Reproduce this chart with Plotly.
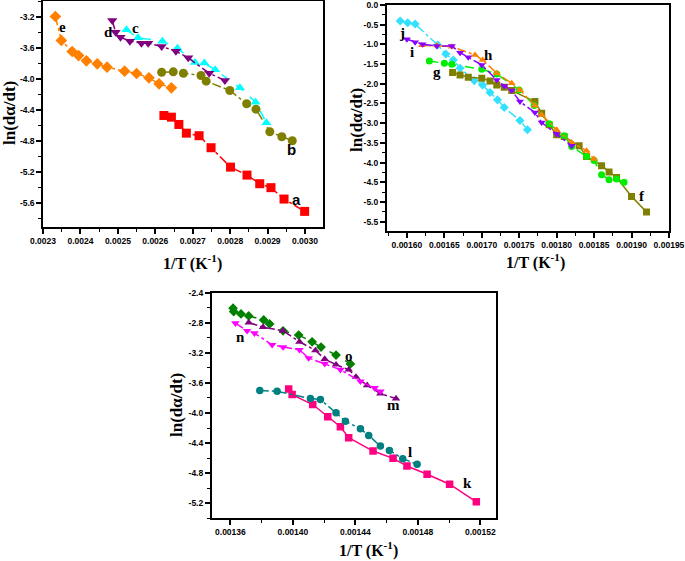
import plotly.graph_objects as go

# ---- panel 1 (top left) ----
a_x = [0.002623, 0.002643, 0.002663, 0.002683, 0.002717, 0.002749, 0.002801, 0.002845, 0.002879, 0.002909, 0.002944, 0.002999]
a_y = [-4.476, -4.498, -4.592, -4.704, -4.737, -4.892, -5.142, -5.245, -5.356, -5.407, -5.554, -5.713]
b_x = [0.002617, 0.002648, 0.002675, 0.002722, 0.002736, 0.002799, 0.002844, 0.002869, 0.002906, 0.002938, 0.002966]
b_y = [-3.918, -3.913, -3.931, -3.960, -4.034, -4.154, -4.325, -4.395, -4.686, -4.750, -4.802]
c_x = [0.002523, 0.002554, 0.002619, 0.002659, 0.002706, 0.002731, 0.002760, 0.002826, 0.002868, 0.002897]
c_y = [-3.372, -3.475, -3.518, -3.608, -3.793, -3.800, -3.887, -4.119, -4.304, -4.570]
d_x = [0.002485, 0.002494, 0.002507, 0.002532, 0.002563, 0.002581, 0.002617, 0.002655, 0.002688, 0.002744, 0.002786]
d_y = [-3.252, -3.402, -3.466, -3.518, -3.544, -3.544, -3.587, -3.647, -3.733, -3.930, -4.025]
e_x = [0.002333, 0.002349, 0.002378, 0.002395, 0.002416, 0.002445, 0.002471, 0.002518, 0.002550, 0.002583, 0.002610, 0.002643]
e_y = [-3.200, -3.509, -3.651, -3.703, -3.771, -3.810, -3.853, -3.905, -3.935, -3.990, -4.068, -4.119]

# ---- panel 2 (top right) ----
f_x = [0.001661, 0.001671, 0.001682, 0.001700, 0.001711, 0.001720, 0.001730, 0.001740, 0.001771, 0.001780,
       0.001790, 0.001800, 0.001810, 0.001830, 0.001840, 0.001860, 0.001870, 0.001880, 0.001900, 0.001920]
f_y = [-1.715, -1.774, -1.833, -1.859, -1.926, -2.028, -2.087, -2.172, -2.450, -2.746,
       -3.040, -3.295, -3.338, -3.574, -3.845, -4.080, -4.240, -4.380, -4.860, -5.255]
g_x = [0.001630, 0.001650, 0.001660, 0.001700, 0.001720, 0.001750, 0.001770, 0.001790, 0.001810, 0.001820,
       0.001840, 0.001850, 0.001860, 0.001870, 0.001880, 0.001890]
g_y = [-1.420, -1.478, -1.504, -1.630, -1.749, -2.155, -2.550, -3.016, -3.320, -3.590,
       -3.845, -3.950, -4.310, -4.436, -4.420, -4.500]
h_x = [0.001620, 0.001640, 0.001660, 0.001691, 0.001701, 0.001720, 0.001740, 0.001751, 0.001771, 0.001780,
       0.001800, 0.001820, 0.001840, 0.001850]
h_y = [-1.020, -1.030, -1.057, -1.267, -1.394, -1.730, -1.985, -2.155, -2.560, -2.788,
       -3.169, -3.490, -3.700, -3.910]
i_x = [0.001600, 0.001611, 0.001621, 0.001640, 0.001660, 0.001671, 0.001682, 0.001700, 0.001720, 0.001730,
       0.001740, 0.001751, 0.001771, 0.001780, 0.001800, 0.001820]
i_y = [-0.870, -0.946, -0.996, -1.039, -1.039, -1.209, -1.326, -1.521, -1.901, -2.053,
       -2.172, -2.451, -2.730, -2.984, -3.278, -3.574]
j_x = [0.001591, 0.001601, 0.001611, 0.001641, 0.001652, 0.001662, 0.001671, 0.001690, 0.001701, 0.001711,
       0.001721, 0.001730, 0.001751, 0.001761]
j_y = [-0.406, -0.449, -0.482, -1.014, -1.242, -1.394, -1.605, -1.919, -2.028, -2.223,
       -2.408, -2.603, -2.933, -3.169]

# ---- panel 3 (bottom) ----
k_x = [0.0013973, 0.0013995, 0.0014127, 0.0014223, 0.0014304, 0.0014357, 0.0014513, 0.0014641, 0.0014730, 0.0014859, 0.0015003, 0.0015174]
k_y = [-3.680, -3.755, -3.887, -4.050, -4.183, -4.329, -4.506, -4.603, -4.705, -4.815, -4.947, -5.181]
l_x = [0.0013788, 0.0013899, 0.0014112, 0.0014176, 0.0014276, 0.0014336, 0.0014432, 0.0014485, 0.0014560, 0.0014618, 0.0014703, 0.0014795]
l_y = [-3.702, -3.711, -3.808, -3.821, -3.998, -4.109, -4.209, -4.298, -4.440, -4.497, -4.607, -4.682]
m_x = [0.0013717, 0.0013809, 0.0013937, 0.0014042, 0.0014144, 0.0014204, 0.0014276, 0.0014357, 0.0014404, 0.0014475, 0.0014560, 0.0014660]
m_y = [-2.797, -2.858, -2.907, -3.053, -3.168, -3.282, -3.358, -3.424, -3.521, -3.632, -3.742, -3.808]
n_x = [0.0013632, 0.0013707, 0.0013754, 0.0013867, 0.0013937, 0.0014042, 0.0014101, 0.0014204, 0.0014304, 0.0014432, 0.0014523, 0.0014560]
n_y = [-2.806, -2.907, -2.938, -3.093, -3.123, -3.159, -3.269, -3.344, -3.424, -3.579, -3.666, -3.711]
o_x = [0.0013617, 0.0013621, 0.0013668, 0.0013717, 0.0013813, 0.0013851, 0.0013937, 0.0014037, 0.0014123, 0.0014180, 0.0014276, 0.0014368]
o_y = [-2.607, -2.652, -2.682, -2.709, -2.762, -2.815, -2.907, -2.964, -3.053, -3.123, -3.229, -3.348]

# tick labels
x1_ticks = [0.0023, 0.0024, 0.0025, 0.0026, 0.0027, 0.0028, 0.0029, 0.0030]
y1_ticks = [-3.2, -3.6, -4.0, -4.4, -4.8, -5.2, -5.6]
x2_ticks = [0.00160, 0.00165, 0.00170, 0.00175, 0.00180, 0.00185, 0.00190, 0.00195]
y2_ticks = [0.0, -0.5, -1.0, -1.5, -2.0, -2.5, -3.0, -3.5, -4.0, -4.5, -5.0, -5.5]
x3_ticks = [0.00136, 0.00140, 0.00144, 0.00148, 0.00152]
y3_ticks = [-2.4, -2.8, -3.2, -3.6, -4.0, -4.4, -4.8, -5.2]

fig = go.Figure()


def add(xs, ys, color, symbol, dash, ax, size=9):
    fig.add_trace(go.Scatter(
        x=xs, y=ys, mode="lines+markers",
        xaxis="x" + ax, yaxis="y" + ax,
        line=dict(color=color, width=1.5, dash=dash),
        marker=dict(symbol=symbol, size=size, color=color),
        showlegend=False,
    ))


add(a_x, a_y, "#FF0000", "square", "dashdot", "")
add(b_x, b_y, "#808000", "circle", "dashdot", "")
add(c_x, c_y, "#00FFFF", "triangle-up", "dash", "")
add(d_x, d_y, "#800080", "triangle-down", "dashdot", "")
add(e_x, e_y, "#FF8000", "diamond", "dashdot", "")

add(j_x, j_y, "#33E0FF", "diamond", "dashdot", "2", 7)
add(f_x, f_y, "#808000", "square", "solid", "2", 7)
add(g_x, g_y, "#00EE00", "circle", "dash", "2", 7)
add(h_x, h_y, "#FF8000", "triangle-up", "dashdot", "2", 7)
add(i_x, i_y, "#8B00FF", "triangle-down", "dashdot", "2", 7)

add(k_x, k_y, "#FF0080", "square", "solid", "3", 7.5)
add(l_x, l_y, "#008080", "circle", "dashdot", "3", 7.5)
add(o_x, o_y, "#008000", "diamond", "dash", "3", 7.5)
add(m_x, m_y, "#800080", "triangle-up", "dashdot", "3", 7.5)
add(n_x, n_y, "#FF00FF", "triangle-down", "dashdot", "3", 7.5)

tick_font = dict(family="Liberation Sans, Arial", size=8.5, color="black", weight="bold")


def axis(domain, rng, vals, fmt, minor_step, anchor):
    return dict(
        domain=domain, range=rng, anchor=anchor, automargin=False,
        tickmode="array", tickvals=vals, ticktext=[fmt.format(v) for v in vals],
        showline=True, linecolor="black", linewidth=1.5, mirror=True,
        ticks="outside", ticklen=5, tickwidth=1.5, tickcolor="black",
        minor=dict(ticks="outside", ticklen=3, tickwidth=1, tickcolor="black",
                   tickmode="linear", tick0=vals[0], dtick=minor_step),
        showgrid=False, zeroline=False, tickfont=tick_font,
    )


fig.update_layout(
    width=685, height=561,
    margin=dict(l=0, r=0, t=0, b=0, autoexpand=False),
    paper_bgcolor="white", plot_bgcolor="white",
    xaxis=axis([0.0628, 0.4715], [0.0023, 0.003048], x1_ticks, "{:.4f}", 0.00005, "y"),
    yaxis=axis([0.5954, 0.9982], [-5.914, -3.0], y1_ticks, "{:.1f}", 0.2, "x"),
    xaxis2=axis([0.5645, 0.9766], [0.001573, 0.00195], x2_ticks, "{:.5f}", 0.000025, "y2"),
    yaxis2=axis([0.5882, 0.9911], [-5.74, 0.002], y2_ticks, "{:.1f}", 0.25, "x2"),
    xaxis3=axis([0.309, 0.7241], [0.001348, 0.00153], x3_ticks, "{:.5f}", 0.00002, "y3"),
    yaxis3=axis([0.0761, 0.4783], [-5.4, -2.4], y3_ticks, "{:.1f}", 0.2, "x3"),
)

serif = dict(family="Liberation Serif, Times New Roman", size=16, color="black", weight="bold")
serif_y = dict(family="Liberation Serif, Times New Roman", size=17, color="black", weight="bold")
xt = "1/T (K<sup>-1</sup>)"
yt = "ln(d\u03b1/dt)"
titles = [
    (192, 262, xt, 0, serif), (535, 261, xt, 0, serif), (368, 549, xt, 0, serif),
    (9, 113, yt, -90, serif_y), (357, 120, yt, -90, serif_y), (176, 405, yt, -90, serif_y),
]
for px, py, txt, ang, fnt in titles:
    fig.add_annotation(x=px / 685, y=1 - py / 561, xref="paper", yref="paper",
                       text=txt, showarrow=False, textangle=ang, font=fnt,
                       xanchor="center", yanchor="middle")

# curve letters
label_font = dict(family="Liberation Serif, Times New Roman", size=15, color="black", weight="bold")
sans_label = dict(family="Liberation Sans, Arial", size=15, color="black", weight="bold")
letters = [
    ("a", 0.002978, -5.558, "", sans_label), ("b", 0.002964, -4.918, "", sans_label),
    ("c", 0.002548, -3.346, "", label_font), ("d", 0.002474, -3.402, "", label_font),
    ("e", 0.002353, -3.329, "", label_font),
    ("j", 0.001593, -0.72, "2", label_font), ("i", 0.001607, -1.18, "2", label_font),
    ("h", 0.001709, -1.27, "2", label_font), ("g", 0.001640, -1.69, "2", label_font),
    ("f", 0.001914, -4.84, "2", label_font),
    ("n", 0.0013664, -2.983, "3", label_font), ("o", 0.0014357, -3.238, "3", label_font),
    ("m", 0.0014645, -3.90, "3", label_font), ("l", 0.0014752, -4.52, "3", label_font),
    ("k", 0.0015119, -4.93, "3", label_font),
]
for txt, lx, ly, ax, fnt in letters:
    fig.add_annotation(x=lx, y=ly, xref="x" + ax, yref="y" + ax, text=txt,
                       showarrow=False, font=fnt)

# the page body has a default 8px margin; drop it so the figure sits at the corner
fig.write_html("out.html", config=dict(displayModeBar=False),
               post_script="document.body.style.margin='0';")
